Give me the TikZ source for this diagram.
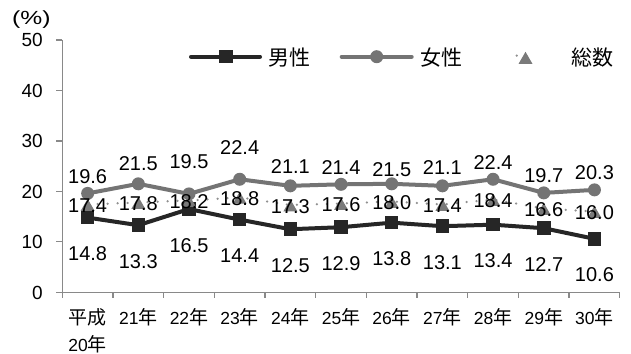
\documentclass[tikz,border=0pt]{standalone}
\usepackage{graphicx}
\usepackage{fontspec}
\setmainfont{Liberation Sans}
\newfontfamily\jp{Noto Sans CJK JP}
\usetikzlibrary{shapes.geometric,calc}
\definecolor{maleC}{HTML}{262626}
\definecolor{femC}{HTML}{747474}
\definecolor{totC}{HTML}{7A7A7A}
\definecolor{dotC}{HTML}{909090}
\definecolor{axisC}{HTML}{898989}
\newcommand\nen[1]{#1{\jp\fontsize{19pt}{19pt}\selectfont 年}}
\begin{document}
\begin{tikzpicture}[x=1pt,y=-1pt,
 axisline/.style={draw=axisC, line width=1.3pt},
 maleline/.style={draw=maleC, line width=4pt, line join=round, line cap=round},
 femline/.style={draw=femC, line width=4pt, line join=round, line cap=round},
 totline/.style={draw=dotC, line width=2.5pt, line cap=round, dash pattern=on 0pt off 10pt},
 msq/.style={rectangle, fill=maleC, minimum size=13.5pt, inner sep=0pt},
 fcirc/.style={circle, fill=femC, minimum size=13pt, inner sep=0pt},
 ttri/.style={regular polygon, regular polygon sides=3, fill=totC, minimum size=16pt, inner sep=0pt, yshift=-2.3pt},
 dlbl/.style={anchor=base, inner sep=0pt, font=\fontsize{20pt}{20pt}\selectfont},
 ylbl/.style={anchor=base east, inner sep=0pt, font=\fontsize{19pt}{19pt}\selectfont},
 clbl/.style={anchor=base, inner sep=0pt, font=\fontsize{17.5pt}{17.5pt}\selectfont},
 leglbl/.style={anchor=west, inner sep=0pt, font=\jp\fontsize{21pt}{21pt}\selectfont},
]
\useasboundingbox (0,0) rectangle (631,353);
\fill[white] (0,0) rectangle (631,353);

% axes
\coordinate (O) at (62.3,292.3);
\coordinate (Ytop) at (62.3,40);
\coordinate (Xend) at (619.8,292.3);
\draw[axisline] (Ytop) -- (O) -- (Xend);
\foreach \v in {0,10,...,50} {
  \coordinate (yt\v) at (62.3,{292.3-5.046*\v});
  \draw[axisline] (yt\v) -- ++(-6,0);
  \node[ylbl] (yl\v) at ($(yt\v)+(-19.3,6.8)$) {\v};
}
\foreach \k in {0,...,11} {
  \coordinate (xt\k) at ({62.3+50.68*\k},292.3);
  \draw[axisline] (xt\k) -- ++(0,5.5);
}
\node[anchor=base west, inner sep=0pt, font=\fontsize{19pt}{19pt}\selectfont] (pct) at (12,24.2) {\scalebox{1.3}[1]{(\%)}};

% data
\def\data{14.8/19.6/17.4/-10,13.3/21.5/17.8/-13,16.5/19.5/18.2/-25.5,14.4/22.4/18.8/-24.3,12.5/21.1/17.3/-12.5,12.9/21.4/17.6/-9.5,13.8/21.5/18.0/-7.5,13.1/21.1/17.4/-11,13.4/22.4/18.4/-10,12.7/19.7/16.6/-10.6,10.6/20.3/16.0/-10.6}
\foreach \m/\f/\t/\o [count=\i from 0] in \data {
  \pgfmathsetmacro\xx{62.3+50.68*(\i+0.5)}
  \coordinate (m\i) at (\xx,{292.3-5.046*\m});
  \coordinate (f\i) at (\xx,{292.3-5.046*\f});
  \coordinate (t\i) at (\xx,{292.3-5.046*\t});
}
\draw[maleline] (m0) \foreach \i in {1,...,10} {-- (m\i)};
\foreach \i in {0,...,10} \node[msq] (ms\i) at (m\i) {};
\draw[femline] (f0) \foreach \i in {1,...,10} {-- (f\i)};
\foreach \i in {0,...,10} \node[fcirc] (fc\i) at (f\i) {};
\draw[totline] (t0) \foreach \i in {1,...,10} {-- (t\i)};
\foreach \i in {0,...,10} \node[ttri] (tt\i) at (t\i) {};

\foreach \m/\f/\t/\o [count=\i from 0] in \data {
  \node[dlbl] (ml\i) at ($(m\i)+(0,43)$) {\m};
  \node[dlbl] (fl\i) at ($(f\i)+(0,\o)$) {\f};
  \node[dlbl] (tl\i) at ($(t\i)+(0,8)$) {\t};
}

% categories
\node[clbl, font=\jp\fontsize{19pt}{19pt}\selectfont] (c0a) at (87.6,324) {平成};
\node[clbl] (c0b) at (87.6,351.5) {\nen{20}};
\foreach \n [count=\i from 1] in {21,...,30} {
  \pgfmathsetmacro\xx{62.3+50.68*(\i+0.5)}
  \node[clbl] (c\i) at (\xx,324) {\nen{\n}};
}

% legend
\coordinate (lm1) at (191,56.7);
\coordinate (lm2) at (260,56.7);
\draw[maleline] (lm1) -- (lm2);
\node[msq] (lms) at (226,56.7) {};
\node[leglbl] (lmt) at (268,58) {男性};
\coordinate (lf1) at (341.7,56.7);
\coordinate (lf2) at (411.7,56.7);
\draw[femline] (lf1) -- (lf2);
\node[fcirc] (lfc) at (376.7,56.7) {};
\node[leglbl] (lft) at (420,58) {女性};
\coordinate (lt1) at (516.7,55.7);
\coordinate (lt2) at (558.3,55.7);
\draw[totline, dash pattern=on 0pt off 41.6pt] (lt1) -- (lt2);
\node[ttri] (ltt) at (525.5,57.5) {};
\node[leglbl] (ltx) at (571,58) {総数};
\end{tikzpicture}
\end{document}
